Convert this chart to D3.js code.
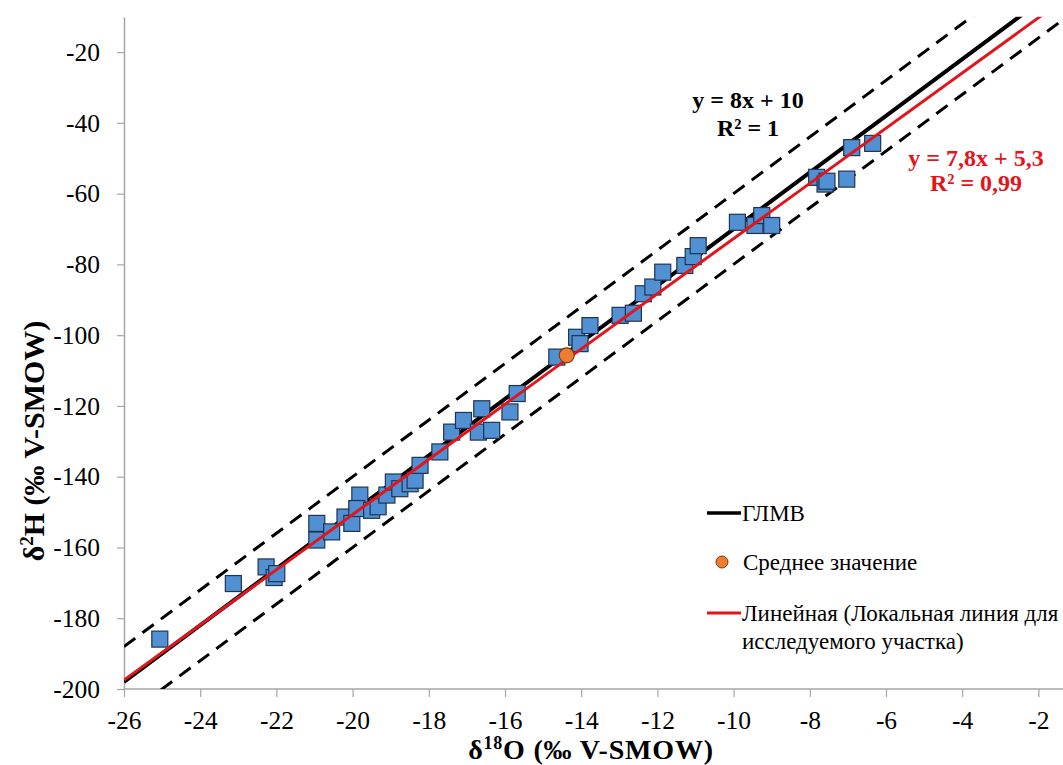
<!DOCTYPE html>
<html>
<head>
<meta charset="utf-8">
<script src="https://cdn.jsdelivr.net/npm/d3@7/dist/d3.min.js"></script>
<style>
  html, body { margin: 0; padding: 0; background: #fff; overflow: hidden; }
  svg { display: block; }
  svg text { font-family: "Liberation Serif", Tinos, "Times New Roman", "DejaVu Serif", serif; }
</style>
</head>
<body>
<svg id="chart" width="1063" height="765"></svg>
<script>
// Sample isotope values (‰ V-SMOW)
const d18O = [-25.06, -23.13, -22.27, -22.06, -21.99, -20.94, -20.94, -20.55, -20.20, -20.02,
              -19.81, -19.89, -19.50, -19.33, -19.10, -18.93, -18.76, -18.49, -18.36, -18.23,
              -17.71, -17.40, -17.09, -16.61, -16.70, -16.35, -15.87, -15.68, -14.64, -14.12,
              -14.03, -13.77, -12.98, -12.63, -12.37, -12.12, -11.86, -11.28, -11.06, -10.93,
              -9.90, -9.44, -9.26, -9.00, -7.82, -7.60, -7.55, -7.03, -6.90, -6.35];
const d2H  = [-185.9, -170.2, -165.5, -168.5, -167.4, -153.2, -157.9, -155.6, -151.4, -153.2,
              -145.2, -149.0, -149.5, -148.5, -145.2, -141.5, -143.4, -142.0, -141.0, -136.8,
              -133.0, -127.4, -124.1, -120.8, -127.4, -126.9, -121.7, -116.5, -106.2, -100.6,
              -102.4, -97.3, -94.4, -93.8, -88.3, -86.4, -82.2, -80.3, -77.8, -74.7,
              -68.1, -69.0, -66.2, -69.0, -55.4, -57.3, -56.5, -55.9, -47.0, -45.8];

// Mean value
const meanPoint = { x: -14.38, y: -105.7 };

// Global meteoric water line and its ±10‰ envelope
const gmwl = { slope: 8, intercept: 10 };
const envelope = [{ slope: 8, intercept: 20 }, { slope: 8, intercept: 0 }];
// Local meteoric water line (linear fit)
const lmwl = { slope: 7.8, intercept: 5.3 };

const xTicks = [-26, -24, -22, -20, -18, -16, -14, -12, -10, -8, -6, -4, -2];
const yTicks = [-200, -180, -160, -140, -120, -100, -80, -60, -40, -20];

const svg = d3.select("#chart");
const W = 1063;

const x = d3.scaleLinear().domain([-26, 0]).range([124, 1114.6]);
const y = d3.scaleLinear().domain([-200, -10]).range([689, 16.7]);

const font = '"Liberation Serif", Tinos, "Times New Roman", "DejaVu Serif", serif';

svg.append("defs").append("clipPath").attr("id", "plot")
  .append("rect").attr("x", 124).attr("y", 16.7).attr("width", W - 124).attr("height", 689 - 16.7);

// Axes
const axisColor = "#a6a6a6";
const fmt = d => String(d);
const gy = svg.append("g").attr("transform", "translate(124,0)")
  .call(d3.axisLeft(y).tickValues(yTicks).tickFormat(fmt).tickSize(7).tickSizeOuter(0).tickPadding(17));
const gx = svg.append("g").attr("transform", "translate(0,689)")
  .call(d3.axisBottom(x).tickValues(xTicks).tickFormat(fmt).tickSize(8).tickSizeOuter(0));
// extend the x axis line to the right edge
gx.select(".domain").attr("d", `M124,0H${W}`);
[gx, gy].forEach(g => {
  g.attr("font-family", font).attr("font-size", 25.5);
  g.select(".domain").attr("stroke", axisColor).attr("stroke-width", 1.5);
  g.selectAll(".tick line").attr("stroke", axisColor).attr("stroke-width", 1.2);
  g.selectAll(".tick text").attr("fill", "#000");
});
gx.selectAll(".tick text").attr("dy", null).attr("y", 40);

// Lines
const lineGen = l => {
  const x0 = -26, x1 = 0;
  return [[x(x0), y(l.slope * x0 + l.intercept)], [x(x1), y(l.slope * x1 + l.intercept)]];
};
const plot = svg.append("g").attr("clip-path", "url(#plot)");

plot.selectAll("line.env").data(envelope).join("line").attr("class", "env")
  .attr("x1", d => lineGen(d)[0][0]).attr("y1", d => lineGen(d)[0][1])
  .attr("x2", d => lineGen(d)[1][0]).attr("y2", d => lineGen(d)[1][1])
  .attr("stroke", "#000").attr("stroke-width", 3).attr("stroke-dasharray", "14,9");

plot.append("line")
  .attr("x1", lineGen(gmwl)[0][0]).attr("y1", lineGen(gmwl)[0][1])
  .attr("x2", lineGen(gmwl)[1][0]).attr("y2", lineGen(gmwl)[1][1])
  .attr("stroke", "#000").attr("stroke-width", 4);

// Sample points
const size = 16;
plot.selectAll("rect.pt").data(d18O.map((v, i) => ({ x: v, y: d2H[i] }))).join("rect")
  .attr("class", "pt")
  .attr("x", d => x(d.x) - size / 2).attr("y", d => y(d.y) - size / 2)
  .attr("width", size).attr("height", size)
  .attr("fill", "#5090d3").attr("stroke", "#1f3452").attr("stroke-width", 1.2);

plot.append("line")
  .attr("x1", lineGen(lmwl)[0][0]).attr("y1", lineGen(lmwl)[0][1])
  .attr("x2", lineGen(lmwl)[1][0]).attr("y2", lineGen(lmwl)[1][1])
  .attr("stroke", "#e3151b").attr("stroke-width", 3);

plot.append("circle").attr("cx", x(meanPoint.x)).attr("cy", y(meanPoint.y)).attr("r", 7.5)
  .attr("fill", "#ed7d31").attr("stroke", "#7a3a10").attr("stroke-width", 1.2);

// Equations
const eq = svg.append("g").attr("font-family", font).attr("font-weight", "bold").attr("font-size", 24)
  .attr("text-anchor", "middle");
eq.append("text").attr("x", 748).attr("y", 108).attr("fill", "#000").text("y = 8x + 10");
eq.append("text").attr("x", 748).attr("y", 136).attr("fill", "#000").text("R² = 1");
eq.append("text").attr("x", 976).attr("y", 166).attr("fill", "#e3151b").text("y = 7,8x + 5,3");
eq.append("text").attr("x", 976).attr("y", 191).attr("fill", "#e3151b").text("R² = 0,99");

// Legend
const lg = svg.append("g").attr("font-family", font).attr("font-size", 23).attr("fill", "#000");
lg.append("line").attr("x1", 707).attr("x2", 741).attr("y1", 513).attr("y2", 513)
  .attr("stroke", "#000").attr("stroke-width", 3.5);
lg.append("text").attr("x", 742).attr("y", 521).text("ГЛМВ");
lg.append("circle").attr("cx", 722).attr("cy", 562).attr("r", 6)
  .attr("fill", "#ed7d31").attr("stroke", "#7a3a10").attr("stroke-width", 1);
lg.append("text").attr("x", 743).attr("y", 570).text("Среднее значение");
lg.append("line").attr("x1", 707).attr("x2", 741).attr("y1", 613).attr("y2", 613)
  .attr("stroke", "#e3151b").attr("stroke-width", 3);
lg.append("text").attr("x", 742).attr("y", 621).text("Линейная (Локальная линия для");
lg.append("text").attr("x", 742).attr("y", 649).text("исследуемого участка)");

// Axis titles
const xt = svg.append("text").attr("x", 591).attr("y", 759).attr("text-anchor", "middle")
  .attr("font-family", font).attr("font-weight", "bold").attr("font-size", 28)
  .attr("letter-spacing", 0.8).attr("fill", "#000");
xt.append("tspan").text("δ");
xt.append("tspan").attr("dy", -10).attr("font-size", 18).text("18");
xt.append("tspan").attr("dy", 10).text("O (‰ V-SMOW)");

const yt = svg.append("text").attr("transform", "translate(44,441) rotate(-90)").attr("text-anchor", "middle")
  .attr("font-family", font).attr("font-weight", "bold").attr("font-size", 30).attr("fill", "#000");
yt.append("tspan").text("δ");
yt.append("tspan").attr("dy", -11).attr("font-size", 19).text("2");
yt.append("tspan").attr("dy", 11).text("H (‰ V-SMOW)");
</script>
</body>
</html>
